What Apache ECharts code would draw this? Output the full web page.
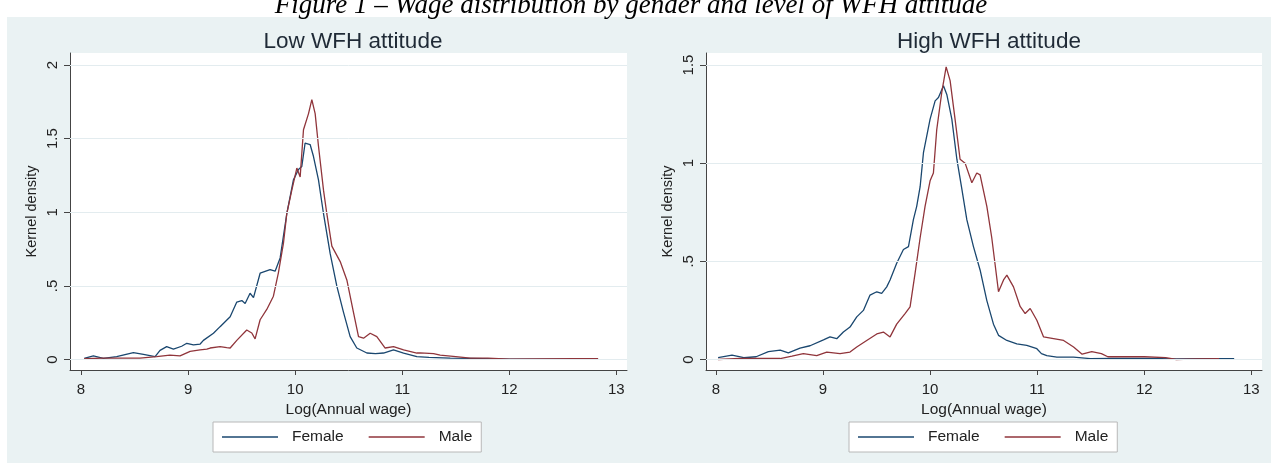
<!DOCTYPE html>
<html>
<head>
<meta charset="utf-8">
<script src="https://cdn.jsdelivr.net/npm/echarts@6/dist/echarts.min.js"></script>
<style>
html,body{margin:0;padding:0;background:#fff;}
#chart{width:1271px;height:463px;}
</style>
</head>
<body>
<div id="chart"></div>
<script>
// ---- Data ----
const panelTitles = ['Low WFH attitude', 'High WFH attitude'];
const seriesNames = ['Female', 'Male'];
const xTicks = [8, 9, 10, 11, 12, 13];
const yTicksLow = [0, 0.5, 1, 1.5, 2];
const yTicksHigh = [0, 0.5, 1, 1.5];

const lowFemale = [[8.03,0.008],[8.115,0.024],[8.209,0.008],[8.333,0.02],[8.489,0.046],[8.583,0.035],[8.692,0.02],[8.738,0.062],[8.8,0.087],[8.863,0.07],[8.94,0.09],[8.988,0.11],[9.05,0.1],[9.113,0.105],[9.143,0.13],[9.237,0.178],[9.299,0.223],[9.393,0.29],[9.455,0.39],[9.502,0.40],[9.533,0.38],[9.579,0.45],[9.611,0.42],[9.673,0.586],[9.766,0.61],[9.813,0.60],[9.86,0.69],[9.922,0.99],[9.984,1.22],[10.031,1.29],[10.062,1.31],[10.093,1.47],[10.14,1.46],[10.171,1.38],[10.218,1.22],[10.265,0.99],[10.327,0.72],[10.389,0.50],[10.452,0.32],[10.514,0.155],[10.576,0.078],[10.67,0.044],[10.75,0.04],[10.826,0.044],[10.919,0.065],[11.013,0.044],[11.137,0.02],[11.25,0.015],[11.449,0.01],[11.636,0.008],[12.0,0.003],[12.4,0.003],[12.83,0.003]];
const lowMale = [[8.03,0.005],[8.2,0.009],[8.4,0.01],[8.55,0.01],[8.706,0.02],[8.83,0.03],[8.925,0.025],[9.019,0.055],[9.112,0.065],[9.175,0.07],[9.206,0.078],[9.299,0.087],[9.361,0.08],[9.393,0.078],[9.455,0.13],[9.548,0.20],[9.595,0.18],[9.626,0.14],[9.673,0.27],[9.735,0.34],[9.797,0.43],[9.844,0.59],[9.891,0.79],[9.922,0.99],[9.969,1.15],[10.016,1.30],[10.047,1.24],[10.078,1.56],[10.125,1.67],[10.156,1.765],[10.187,1.67],[10.218,1.45],[10.265,1.15],[10.296,0.99],[10.343,0.77],[10.421,0.665],[10.483,0.54],[10.545,0.32],[10.592,0.155],[10.639,0.145],[10.701,0.178],[10.763,0.155],[10.841,0.078],[10.919,0.087],[11.013,0.065],[11.137,0.044],[11.168,0.045],[11.293,0.04],[11.355,0.03],[11.5,0.02],[11.636,0.01],[11.8,0.01],[12.0,0.002],[12.3,0.004],[12.6,0.005],[12.83,0.005]];
const highFemale = [[8.02,0.01],[8.15,0.022],[8.26,0.009],[8.375,0.014],[8.49,0.04],[8.6,0.048],[8.676,0.034],[8.785,0.058],[8.879,0.07],[9.004,0.1],[9.065,0.115],[9.128,0.106],[9.19,0.14],[9.252,0.165],[9.315,0.217],[9.377,0.25],[9.439,0.328],[9.502,0.345],[9.548,0.337],[9.595,0.37],[9.626,0.405],[9.688,0.49],[9.751,0.56],[9.798,0.575],[9.844,0.712],[9.875,0.78],[9.907,0.88],[9.938,1.053],[10.0,1.224],[10.047,1.317],[10.078,1.334],[10.125,1.394],[10.156,1.35],[10.203,1.224],[10.25,1.02],[10.296,0.87],[10.343,0.712],[10.405,0.575],[10.467,0.456],[10.53,0.30],[10.592,0.18],[10.639,0.123],[10.717,0.097],[10.81,0.08],[10.903,0.072],[10.997,0.055],[11.04,0.03],[11.09,0.02],[11.184,0.012],[11.34,0.012],[11.495,0.004],[11.7,0.005],[12.0,0.006],[12.3,0.003],[12.6,0.004],[12.84,0.004]];
const highMale = [[8.02,0.0],[8.225,0.005],[8.6,0.005],[8.71,0.017],[8.816,0.03],[8.941,0.02],[9.035,0.038],[9.159,0.03],[9.252,0.038],[9.315,0.064],[9.408,0.097],[9.502,0.13],[9.564,0.14],[9.626,0.115],[9.688,0.18],[9.766,0.234],[9.813,0.268],[9.86,0.44],[9.907,0.62],[9.953,0.78],[10.0,0.91],[10.031,0.95],[10.062,1.17],[10.109,1.36],[10.15,1.49],[10.187,1.42],[10.234,1.22],[10.28,1.02],[10.327,1.0],[10.39,0.9],[10.436,0.95],[10.467,0.94],[10.53,0.78],[10.576,0.62],[10.639,0.345],[10.686,0.405],[10.717,0.43],[10.779,0.37],[10.841,0.27],[10.888,0.234],[10.935,0.26],[10.997,0.2],[11.06,0.115],[11.153,0.106],[11.247,0.097],[11.34,0.064],[11.42,0.027],[11.51,0.04],[11.6,0.03],[11.66,0.014],[11.8,0.014],[12.0,0.014],[12.2,0.01],[12.3,0.0],[12.5,0.003],[12.7,0.004]];

const caption = 'Figure 1 \u2013 Wage distribution by gender and level of WFH attitude';

// ---- Styles ----
const FONT = '"Liberation Sans", Arial, sans-serif';
const TEXT = '#222';
const FEMALE_C = '#1a476f';
const MALE_C = '#90353b';
const GRIDLINE_C = '#e3ecef';
const BG = '#eaf2f3';

function yLabel(v){ if (v === 0) return '0'; const s = String(v); return s.startsWith('0.') ? s.slice(1) : s; }

function makeX(idx, min){
  return {
    type:'value', gridIndex: idx, min: min, max: 13.1,
    name:'Log(Annual wage)', nameLocation:'middle', nameGap: 29,
    nameTextStyle:{fontFamily:FONT, fontSize:15.5, color:TEXT},
    axisLine:{show:true, onZero:false, lineStyle:{color:'#444', width:1}},
    axisTick:{show:true, length:5, customValues:xTicks, lineStyle:{color:'#444'}},
    axisLabel:{show:true, customValues:xTicks, margin:12, fontFamily:FONT, fontSize:15, color:TEXT, formatter:v=>String(v)},
    splitLine:{show:false}
  };
}
function makeY(idx, min, max, ticks){
  return {
    type:'value', gridIndex: idx, min: min, max: max,
    name:'Kernel density', nameLocation:'middle', nameGap: 31, nameRotate: 90,
    nameTextStyle:{fontFamily:FONT, fontSize:14.5, color:TEXT},
    axisLine:{show:true, onZero:false, lineStyle:{color:'#444', width:1}},
    axisTick:{show:true, length:6, customValues:ticks, lineStyle:{color:'#444'}},
    axisLabel:{show:true, customValues:ticks, rotate:90, margin:10, fontFamily:FONT, fontSize:15, color:TEXT, formatter:yLabel},
    splitLine:{show:false}
  };
}
function gridSeries(idx, ticks){
  return {
    type:'line', xAxisIndex:idx, yAxisIndex:idx, data:[], z:1, silent:true,
    markLine:{silent:true, symbol:['none','none'], label:{show:false}, animation:false,
      lineStyle:{type:'solid', color:GRIDLINE_C, width:1},
      data: ticks.map(t=>({yAxis:t}))}
  };
}
function dataSeries(idx, name, data, color){
  return {
    type:'line', name:name, xAxisIndex:idx, yAxisIndex:idx, data:data, z:3,
    showSymbol:false, symbol:'none', smooth:false, animation:false,
    lineStyle:{color:color, width:1.3}, itemStyle:{color:color}
  };
}
function makeLegend(left){
  return {
    left:left, top:422, orient:'horizontal',
    data: seriesNames.map(n=>({name:n, icon:'rect'})),
    backgroundColor:'#fff', borderColor:'#b8b8b8', borderWidth:1, borderRadius:0,
    padding:[7,9,7,9], itemWidth:56, itemHeight:1.4, itemGap:25,
    textStyle:{fontFamily:FONT, fontSize:15.5, color:TEXT, padding:[0,0,0,9]},
    selectedMode:false
  };
}

const chart = echarts.init(document.getElementById('chart'), null, {renderer:'canvas', width:1271, height:463});
chart.setOption({
  animation:false,
  backgroundColor:'#fff',
  graphic:[
    {type:'rect', z:-10, shape:{x:7, y:17, width:1264, height:446}, style:{fill:BG}},
    {type:'text', z:10, x:631, y:-8, style:{text:caption, fill:'#000', font:'italic 27px "Liberation Serif", "Times New Roman", serif', textAlign:'center', textVerticalAlign:'top'}}
  ],
  title: panelTitles.map((t,i)=>({
    text:t, left: i===0 ? 348 : 984, top:25, textAlign:'center',
    textStyle:{fontFamily:FONT, fontSize:22.5, fontWeight:'normal', color:'#1f2a36'}
  })),
  legend:[makeLegend(213), makeLegend(849)],
  grid:[
    {left:70, right:1271-627, top:53, bottom:463-370, show:true, backgroundColor:'#fff', borderWidth:0},
    {left:706, right:1271-1262, top:53, bottom:463-370, show:true, backgroundColor:'#fff', borderWidth:0}
  ],
  xAxis:[makeX(0, 7.897), makeX(1, 7.907)],
  yAxis:[makeY(0, -0.0713, 2.0815, yTicksLow), makeY(1, -0.0535, 1.561, yTicksHigh)],
  series:[
    gridSeries(0, yTicksLow), gridSeries(1, yTicksHigh),
    dataSeries(0, 'Female', lowFemale, FEMALE_C),
    dataSeries(0, 'Male', lowMale, MALE_C),
    dataSeries(1, 'Female', highFemale, FEMALE_C),
    dataSeries(1, 'Male', highMale, MALE_C)
  ]
});
</script>
</body>
</html>
